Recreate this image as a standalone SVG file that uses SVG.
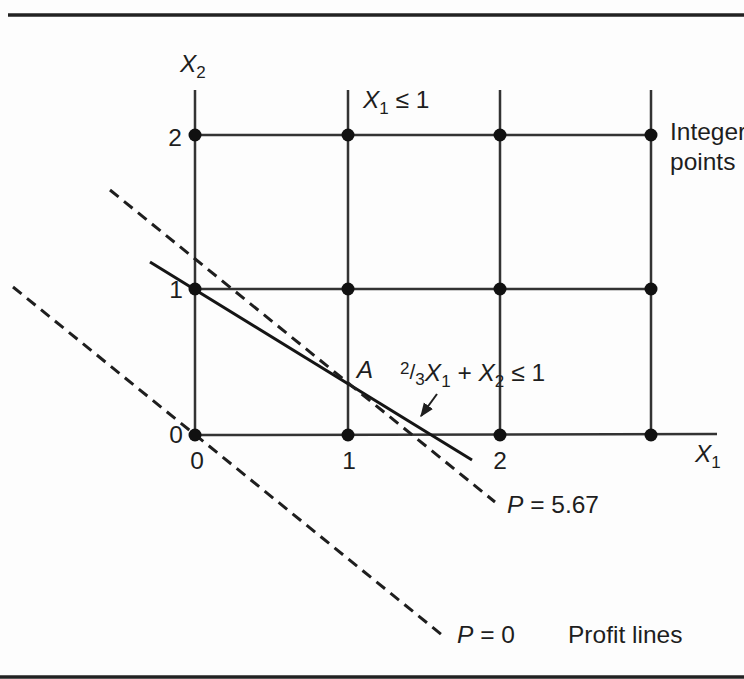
<svg xmlns="http://www.w3.org/2000/svg" width="744" height="679" viewBox="0 0 744 679">
<defs>
<style>
.t{font-family:"Liberation Sans",Arial,sans-serif;font-size:24.5px;fill:#1e1e1e}
.i{font-style:italic}
.s{font-size:17px}
.grid{stroke:#333;stroke-width:2.5;fill:none}
.dash{stroke:#1e1e1e;stroke-width:3;stroke-dasharray:11 7;fill:none}
.rule{stroke:#222;stroke-width:3.5}
.dot{fill:#111}
</style>
<marker id="ah" viewBox="0 0 10 10" refX="9" refY="5" markerWidth="7" markerHeight="7" orient="auto">
<path d="M0,1 L10,5 L0,9 z" fill="#1e1e1e"/>
</marker>
</defs>
<rect width="744" height="679" fill="#fdfdfd"/>
<line class="rule" x1="8" y1="15" x2="744" y2="15"/>
<line class="rule" x1="0" y1="677" x2="744" y2="677"/>

<g id="grid">
<line class="grid" x1="195" y1="90" x2="195" y2="435"/>
<line class="grid" x1="348" y1="90" x2="348" y2="435"/>
<line class="grid" x1="500" y1="90" x2="500" y2="435"/>
<line class="grid" x1="651" y1="90" x2="651" y2="435"/>
<line class="grid" x1="195" y1="135" x2="651" y2="135"/>
<line class="grid" x1="195" y1="289" x2="651" y2="289"/>
<line class="grid" x1="195" y1="435" x2="717" y2="434"/>
</g>

<g id="connectors">
<line id="constraint" x1="150" y1="262" x2="472" y2="460" stroke="#151515" stroke-width="3"/>
<line id="p567" class="dash" x1="110" y1="190" x2="495" y2="502"/>
<line id="p0" class="dash" x1="13" y1="287" x2="442" y2="635"/>
<line id="arrow" x1="437" y1="394" x2="421" y2="416" stroke="#1e1e1e" stroke-width="2" marker-end="url(#ah)"/>
</g>

<g id="integer-points">
<circle class="dot" cx="195" cy="435" r="6.5"/>
<circle class="dot" cx="348" cy="435" r="6.5"/>
<circle class="dot" cx="500" cy="435" r="6.5"/>
<circle class="dot" cx="651" cy="435" r="6.5"/>
<circle class="dot" cx="195" cy="289" r="6.5"/>
<circle class="dot" cx="348" cy="289" r="6.5"/>
<circle class="dot" cx="500" cy="289" r="6.5"/>
<circle class="dot" cx="651" cy="289" r="6.5"/>
<circle class="dot" cx="195" cy="135" r="6.5"/>
<circle class="dot" cx="348" cy="135" r="6.5"/>
<circle class="dot" cx="500" cy="135" r="6.5"/>
<circle class="dot" cx="651" cy="135" r="6.5"/>
</g>

<g id="labels">
<text class="t i" x="180" y="72">X<tspan class="s" font-style="normal" dy="6">2</tspan></text>
<text class="t i" x="363" y="108">X<tspan class="s" font-style="normal" dy="6">1</tspan><tspan font-style="normal" dy="-6"> ≤ 1</tspan></text>
<text class="t i" x="695" y="462">X<tspan class="s" font-style="normal" dy="6">1</tspan></text>
<text class="t" x="175" y="146" text-anchor="middle">2</text>
<text class="t" x="176" y="298" text-anchor="middle">1</text>
<text class="t" x="176" y="443" text-anchor="middle">0</text>
<text class="t" x="197" y="469" text-anchor="middle">0</text>
<text class="t" x="349" y="469" text-anchor="middle">1</text>
<text class="t" x="500" y="469" text-anchor="middle">2</text>
<text class="t i" x="365" y="378" text-anchor="middle">A</text>
<text class="t" x="400" y="381"><tspan class="s" dy="-7">2</tspan><tspan font-size="21" dy="5">/</tspan><tspan class="s" dy="6">3</tspan><tspan class="i" dy="-4">X</tspan><tspan class="s" dy="6">1</tspan><tspan dy="-6"> + </tspan><tspan class="i">X</tspan><tspan class="s" dy="6">2</tspan><tspan dy="-6"> ≤ 1</tspan></text>
<text class="t" x="670" y="140">Integer</text>
<text class="t" x="670" y="170">points</text>
<text class="t" x="507" y="513"><tspan class="i">P</tspan> = 5.67</text>
<text class="t" x="457" y="643"><tspan class="i">P</tspan> = 0</text>
<text class="t" x="568" y="643">Profit lines</text>
</g>
</svg>
